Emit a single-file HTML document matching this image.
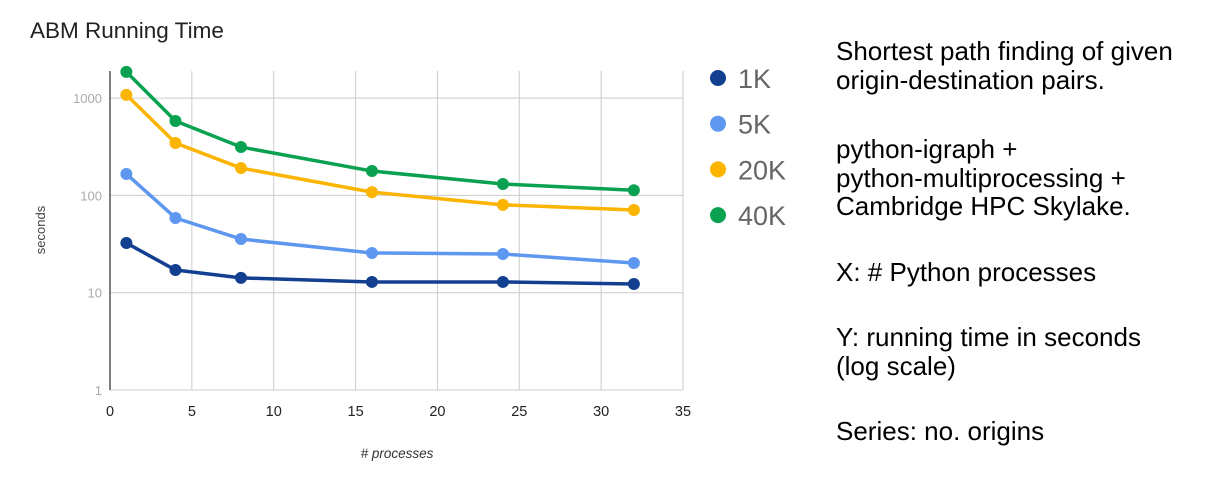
<!DOCTYPE html>
<html><head><meta charset="utf-8"><style>
body{margin:0;background:#fff;width:1212px;height:463px;overflow:hidden;font-family:"Liberation Sans",sans-serif;}
#notes{position:absolute;left:836px;top:37px;font-size:26px;line-height:28.5px;color:#000;}
#notes p{margin:0 0 37px 0;}
</style></head><body>
<svg id="chart" width="800" height="463" style="position:absolute;left:0;top:0">
<text x="30" y="38" font-size="22.5" fill="#222" font-family="Liberation Sans">ABM Running Time</text>
<g id="grid"></g><g id="series"></g><g id="legend"></g>
<text x="45" y="230" font-size="13" fill="#444" transform="rotate(-90 45 230)" text-anchor="middle" font-family="Liberation Sans">seconds</text>
<text x="397" y="458" font-size="13.5" fill="#333" font-style="italic" text-anchor="middle" font-family="Liberation Sans"># processes</text>
</svg>
<div id="notes">
<p style="margin-bottom:41px">Shortest path finding of given<br>origin-destination pairs.</p>
<p>python-igraph +<br>python-multiprocessing +<br>Cambridge HPC Skylake.</p>
<p>X: # Python processes</p>
<p>Y: running time in seconds<br>(log scale)</p>
<p>Series: no. origins</p>
</div>
<script>
const xs = [1, 4, 8, 16, 24, 32];
const s1K = [32.4, 17.1, 14.2, 12.9, 12.9, 12.3];
const s5K = [166, 58.6, 35.6, 25.6, 25, 20.2];
const s20K = [1080, 346, 191, 108, 80, 70.8];
const s40K = [1860, 582, 314, 178, 131, 113];
const seriesNames = ["1K", "5K", "20K", "40K"];
const xTicks = [0, 5, 10, 15, 20, 25, 30, 35];
const yTicks = [1, 10, 100, 1000];

const NS = "http://www.w3.org/2000/svg";
const X0 = 110, X1 = 683, Y0 = 390, DEC = 97.3, YTOP = 71;
const xS = v => X0 + (v / 35) * (X1 - X0);
const yS = v => Y0 - Math.log10(v) * DEC;
function mk(tag, attrs, parent) { const e = document.createElementNS(NS, tag); for (const k in attrs) e.setAttribute(k, attrs[k]); parent.appendChild(e); return e; }
const grid = document.getElementById("grid");
xTicks.forEach(t => {
  const x = xS(t);
  if (t > 0) { const l = mk("line", {x1:x, x2:x, y1:YTOP, y2:Y0, stroke:"#ccc", "stroke-width":1}, grid);
    
     }
  const tx = mk("text", {x:x, y:Y0+26, "font-size":14.5, "text-anchor":"middle", fill:"#222", "font-family":"Liberation Sans"}, grid);
  tx.textContent = t;
  
  
});
yTicks.forEach(t => {
  const y = yS(t);
  const l = mk("line", {x1:X0, x2:X1, y1:y, y2:y, stroke:"#ccc", "stroke-width":1}, grid);
  
  
  const tx = mk("text", {x:X0-8, y:y+5, "font-size":13, "text-anchor":"end", fill:"#aaa", "font-family":"Liberation Sans"}, grid);
  tx.textContent = t;
  
  
});
const ax = mk("line", {x1:X0, x2:X0, y1:YTOP, y2:Y0, stroke:"#555", "stroke-width":1.5}, grid);



const colors = ["#123f8f", "#5e97f0", "#fbb400", "#0aa150"];
const all = [s1K, s5K, s20K, s40K];
const sg = document.getElementById("series");
all.forEach((arr, i) => {
  const g = mk("g", {}, sg);
  
  
  const pts = arr.map((v, j) => xS(xs[j]) + "," + yS(v)).join(" ");
  const pl = mk("polyline", {points:pts, fill:"none", stroke:colors[i], "stroke-width":3.5, "stroke-linejoin":"round"}, g);
  
  
  arr.forEach((v, j) => {
    const c = mk("circle", {cx:xS(xs[j]), cy:yS(v), r:6, fill:colors[i]}, g);
    
    
  });
});
const lg = document.getElementById("legend");
seriesNames.forEach((n, i) => {
  const y = 78 + i * 45.7;
  const g = mk("g", {}, lg);
  
  
  mk("circle", {cx:718, cy:y, r:8, fill:colors[i]}, g);
  const t = mk("text", {x:738, y:y+10, "font-size":27, fill:"#666", "font-family":"Liberation Sans"}, g);
  t.textContent = n;
});
</script>
</body></html>
